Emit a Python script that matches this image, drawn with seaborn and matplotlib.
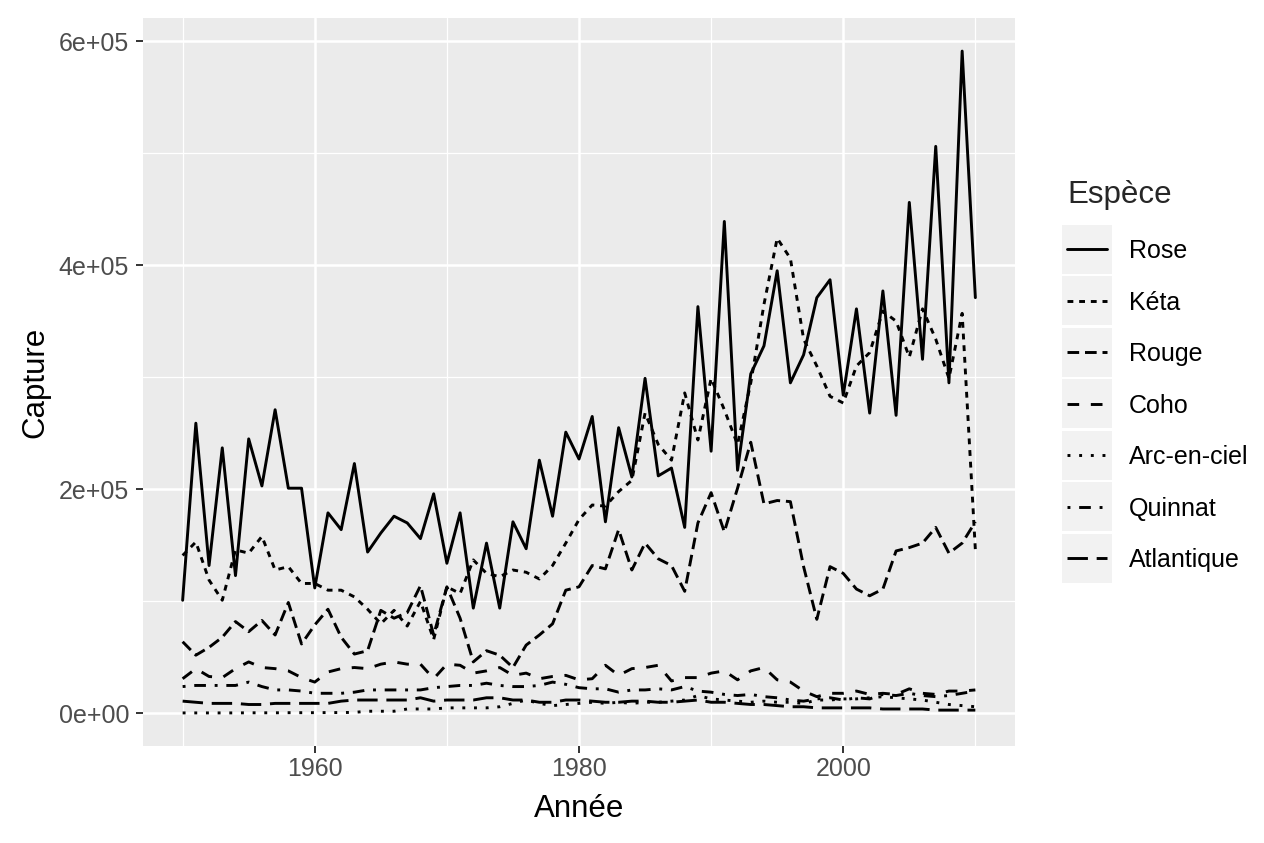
import pandas as pd
import matplotlib
matplotlib.use("Agg")
import matplotlib.pyplot as plt
import seaborn as sns
from matplotlib.legend_handler import HandlerLine2D
from matplotlib.patches import Rectangle

# Captures annuelles (en milliers)
annees = list(range(1950, 2011))

rose_k = [101, 259, 132, 237, 123, 245, 203, 271, 201, 201,
          112, 179, 164, 223, 144, 161, 176, 170, 156, 196,
          134, 179, 94, 152, 94, 171, 147, 226, 176, 251,
          227, 265, 171, 255, 211, 299, 212, 219, 166, 363,
          234, 439, 217, 303, 328, 395, 295, 320, 371, 387,
          284, 361, 268, 377, 266, 456, 316, 506, 295, 591, 371]
keta_k = [141, 153, 119, 101, 146, 143, 158, 128, 131, 116,
          116, 110, 110, 104, 93, 80, 92, 78, 100, 66,
          113, 107, 137, 125, 122, 128, 126, 120, 132, 152,
          173, 186, 185, 198, 208, 268, 240, 226, 286, 244,
          299, 271, 240, 295, 365, 424, 406, 334, 310, 283,
          277, 310, 322, 359, 350, 318, 361, 334, 299, 357, 146]
rouge_k = [64, 52, 59, 68, 82, 73, 83, 70, 99, 62,
           79, 93, 68, 53, 56, 92, 85, 90, 114, 70,
           113, 85, 46, 56, 52, 41, 61, 70, 80, 110,
           113, 132, 129, 164, 128, 152, 138, 132, 109, 170,
           197, 162, 201, 242, 187, 190, 189, 131, 84, 131,
           125, 111, 105, 111, 145, 148, 152, 166, 143, 152, 171]
coho_k = [31, 40, 33, 32, 40, 46, 41, 40, 38, 32,
          28, 37, 40, 41, 40, 44, 46, 44, 44, 31,
          44, 43, 36, 38, 41, 34, 36, 31, 33, 34,
          30, 31, 43, 34, 40, 41, 43, 29, 32, 32,
          36, 38, 30, 38, 41, 30, 28, 20, 15, 18,
          18, 20, 17, 18, 17, 22, 18, 17, 20, 20, 21]
arc_k = [0.5, 0.5, 0.5, 0.5, 0.5, 0.6, 0.6, 0.6, 0.7, 0.7,
         0.7, 0.8, 0.8, 1, 2, 2, 2, 4, 4, 4,
         5, 5, 5, 5, 6, 9, 12, 9, 7, 8,
         9, 10, 9, 10, 9, 10, 10, 11, 12, 16,
         13, 12, 11, 10, 11, 10, 10, 9, 12, 12,
         13, 13, 14, 15, 14, 13, 12, 10, 8, 7, 6]
quinnat_k = [24, 25, 25, 25, 25, 28, 24, 21, 21, 20,
             18, 18, 18, 19, 21, 21, 21, 21, 21, 23,
             24, 25, 25, 27, 25, 24, 24, 25, 28, 26,
             23, 22, 22, 19, 21, 21, 22, 21, 24, 20,
             19, 17, 16, 17, 15, 14, 12, 11, 13, 14,
             12, 14, 13, 17, 16, 18, 16, 15, 16, 18, 20]
atlant_k = [11, 10, 9, 9, 9, 8, 8, 9, 9, 9,
            9, 9, 11, 12, 12, 12, 12, 12, 14, 11,
            12, 12, 12, 14, 14, 12, 12, 10, 10, 12,
            12, 11, 10, 10, 11, 11, 10, 10, 11, 12,
            10, 10, 9, 8, 8, 7, 6, 6, 5, 5,
            5, 5, 5, 4, 4, 4, 4, 3, 3, 3, 3]

especes = ["Rose", "Kéta", "Rouge", "Coho", "Arc-en-ciel", "Quinnat", "Atlantique"]
series = [rose_k, keta_k, rouge_k, coho_k, arc_k, quinnat_k, atlant_k]

y_ticks = [0, 200000, 400000, 600000]
y_ticklabels = ["0e+00", "2e+05", "4e+05", "6e+05"]
x_ticks = [1960, 1980, 2000]

# linetypes ggplot par defaut
dash_map = {
    "Rose": "",
    "Kéta": (2, 2),
    "Rouge": (4, 2),
    "Coho": (4, 4),
    "Arc-en-ciel": (1, 3),
    "Quinnat": (1, 3, 4, 3),
    "Atlantique": (7, 3),
}

rows = []
for nom, vals in zip(especes, series):
    for a, v in zip(annees, vals):
        rows.append({"Année": a, "Capture": v * 1000, "Espèce": nom})
df = pd.DataFrame(rows)

sns.set_theme(style="darkgrid")
plt.rcParams["font.family"] = ["Liberation Sans", "DejaVu Sans"]
plt.rcParams["lines.solid_joinstyle"] = "round"
plt.rcParams["lines.dash_joinstyle"] = "round"

fig = plt.figure(figsize=(12.64, 8.43), dpi=100, facecolor="white")
ax = fig.add_axes([143 / 1264, 97 / 843, 872 / 1264, 728 / 843])
ax.set_facecolor("#EBEBEB")

sns.lineplot(data=df, x="Année", y="Capture", style="Espèce", style_order=especes,
             dashes=dash_map, color="black", linewidth=2.1, estimator=None,
             errorbar=None, ax=ax, legend=False)

ax.margins(x=0.05, y=0.05)
ax.set_xticks(x_ticks)
ax.set_xticks([1950, 1970, 1990, 2010], minor=True)
ax.set_yticks(y_ticks)
ax.set_yticklabels(y_ticklabels)
ax.set_yticks([100000, 300000, 500000], minor=True)

ax.grid(which="major", color="white", linewidth=1.8)
ax.grid(which="minor", color="white", linewidth=0.9)
ax.set_axisbelow(True)
for s in ax.spines.values():
    s.set_visible(False)

ax.tick_params(which="major", length=5, width=1.4, color="#333333",
               labelsize=18, labelcolor="#4D4D4D", bottom=True, left=True)
ax.tick_params(axis="x", which="major", pad=2.6)
ax.tick_params(axis="y", which="major", pad=5)
ax.tick_params(which="minor", length=0)

ax.set_xlabel("Année", fontsize=22.5, color="black", labelpad=9.5)
ax.set_ylabel("Capture", fontsize=22.5, color="black", labelpad=6)


class CleGrise(HandlerLine2D):
    # cle de legende facon ggplot : carre gris clair + trait centre sur le texte
    def create_artists(self, legend, orig_handle, xdescent, ydescent,
                       width, height, fontsize, trans):
        arts = super().create_artists(legend, orig_handle, xdescent, ydescent,
                                      width, height, fontsize, trans)
        yc = 0.36 * fontsize
        for a in arts:
            a.set_ydata([yc] * len(a.get_xdata()))
        fond = Rectangle((-xdescent - 3.3, yc - height / 2), width + 6.6, height,
                         facecolor="#F2F2F2", edgecolor="none", transform=trans)
        return [fond] + list(arts)


handles = ax.get_lines()[:len(especes)]
leg = ax.legend(handles, especes, loc="center left",
                bbox_to_anchor=((1067 - 143) / 872, 0.5),
                frameon=False, fontsize=18, title="Espèce", title_fontsize=22.5,
                handlelength=1.6, handleheight=2.64, labelspacing=0.1,
                handletextpad=0.88, borderpad=0, borderaxespad=0,
                alignment="left", handler_map={plt.Line2D: CleGrise()})
for t in leg.get_texts():
    t.set_color("black")
leg._legend_box.sep = 12

fig.savefig("out.png", dpi=100, facecolor="white")
